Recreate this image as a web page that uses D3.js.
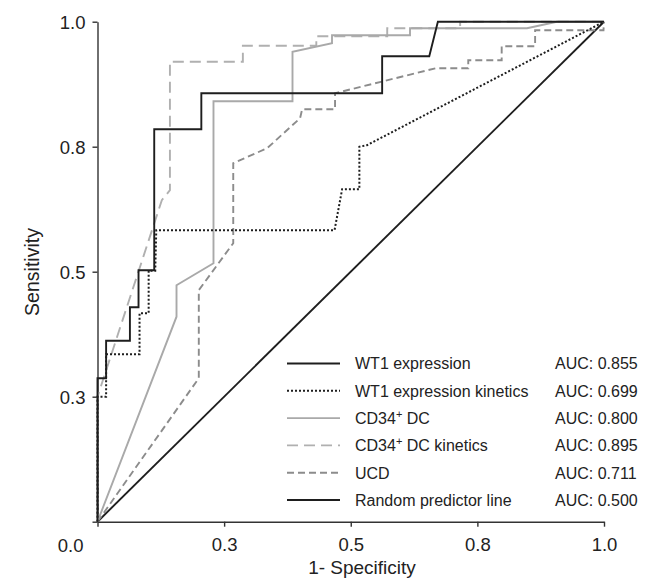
<!DOCTYPE html>
<html>
<head>
<meta charset="utf-8">
<script src="https://cdn.jsdelivr.net/npm/d3@7"></script>
<style>
  html, body { margin: 0; padding: 0; background: #fff; }
  svg { display: block; font-family: "Liberation Sans", Arial, Helvetica, sans-serif; }
</style>
</head>
<body>
<svg id="chart" width="649" height="585"></svg>
<script>
// ---- Data ----
const seriesNames = ["WT1 expression", "WT1 expression kinetics", "CD34+ DC", "CD34+ DC kinetics", "UCD", "Random predictor line"];
const aucValues = ["0.855", "0.699", "0.800", "0.895", "0.711", "0.500"];

// [1-specificity, sensitivity]
const wt1Expression = [[0,0],[0,0.287],[0.017,0.287],[0.017,0.362],[0.064,0.362],[0.064,0.429],[0.081,0.429],[0.081,0.503],[0.112,0.503],[0.112,0.785],[0.205,0.785],[0.205,0.857],[0.562,0.857],[0.562,0.931],[0.655,0.931],[0.672,1.0],[1,1]];
const wt1Kinetics = [[0,0],[0,0.25],[0.017,0.25],[0.017,0.335],[0.083,0.335],[0.083,0.417],[0.101,0.417],[0.101,0.502],[0.114,0.502],[0.116,0.583],[0.468,0.583],[0.483,0.665],[0.517,0.665],[0.517,0.75],[0.532,0.753],[1,1]];
const cd34DC = [[0,0],[0.156,0.41],[0.156,0.473],[0.229,0.517],[0.229,0.841],[0.385,0.841],[0.385,0.94],[0.463,0.957],[0.463,0.973],[0.617,0.973],[0.617,0.987],[0.848,0.987],[0.907,1.0],[1,1]];
const cd34Kinetics = [[0,0],[0,0.25],[0.127,0.643],[0.143,0.663],[0.143,0.92],[0.287,0.92],[0.287,0.952],[0.432,0.952],[0.432,0.971],[0.572,0.971],[0.572,0.987],[0.716,0.987],[0.716,1.0],[1,1]];
const ucd = [[0,0],[0.2,0.287],[0.2,0.463],[0.268,0.557],[0.268,0.717],[0.335,0.747],[0.4,0.807],[0.404,0.825],[0.469,0.825],[0.469,0.857],[0.668,0.907],[0.732,0.907],[0.732,0.923],[0.798,0.923],[0.798,0.951],[0.864,0.951],[0.864,0.983],[0.999,0.983],[1,1]];
const randomLine = [[0,0],[1,1]];

const tickValues = [0, 0.25, 0.5, 0.75, 1];
const xTickLabels = ["0.0", "0.3", "0.5", "0.8", "1.0"];
const yTickLabels = ["", "0.3", "0.5", "0.8", "1.0"];

// ---- Styles ----
const styles = [
  { data: wt1Expression, color: "#1e1e1e", width: 1.9, dash: null },
  { data: wt1Kinetics,   color: "#1e1e1e", width: 2.0, dash: "2,2" },
  { data: cd34DC,        color: "#a9a9a9", width: 1.9, dash: null },
  { data: cd34Kinetics,  color: "#b0b0b0", width: 1.9, dash: "11,6" },
  { data: ucd,           color: "#8c8c8c", width: 1.9, dash: "7,4" },
  { data: randomLine,    color: "#1e1e1e", width: 1.9, dash: null }
];

const svg = d3.select("#chart");
const x = d3.scaleLinear().domain([0, 1]).range([97.5, 604]);
const y = d3.scaleLinear().domain([0, 1]).range([521.7, 21.7]);
const axisColor = "#333";

// ---- Axes ----
const xAxis = d3.axisBottom(x).tickValues(tickValues).tickSize(5).tickSizeOuter(0)
  .tickFormat((d, i) => i === 0 ? "" : xTickLabels[i]);
const gx = svg.append("g").attr("transform", `translate(0,${y(0)})`).call(xAxis);
const yAxis = d3.axisLeft(y).tickValues(tickValues).tickSize(5).tickSizeOuter(0)
  .tickFormat((d, i) => yTickLabels[i]);
const gy = svg.append("g").attr("transform", `translate(${x(0)},0)`).call(yAxis);

[gx, gy].forEach(g => {
  g.select(".domain").attr("stroke", axisColor).attr("stroke-width", 1.4);
  g.selectAll(".tick line").attr("stroke", axisColor).attr("stroke-width", 1.4);
  g.selectAll(".tick text").attr("fill", "#222").style("font-size", "18.5px")
    .style("font-family", '"Liberation Sans", Arial, sans-serif');
});
gx.selectAll(".tick text").attr("dy", null).attr("y", 29.8);
gy.selectAll(".tick text").attr("x", -12).attr("dy", "0.36em");

// origin label "0.0"
svg.append("text").attr("x", x(0) - 14).attr("y", y(0) + 29.8)
  .attr("text-anchor", "end").attr("fill", "#222").style("font-size", "18.5px")
  .text(xTickLabels[0]);

// axis titles
svg.append("text").attr("x", 362).attr("y", 573.5)
  .attr("text-anchor", "middle").attr("fill", "#222").style("font-size", "19px")
  .text("1- Specificity");
svg.append("text").attr("transform", "translate(39,272) rotate(-90)")
  .attr("text-anchor", "middle").attr("fill", "#222").style("font-size", "19.5px")
  .text("Sensitivity");

// ---- Curves ----
const line = d3.line().x(d => x(d[0])).y(d => y(d[1]));
const drawOrder = [5, 4, 3, 2, 1, 0];
drawOrder.forEach(i => {
  const s = styles[i];
  svg.append("path").datum(s.data)
    .attr("d", line)
    .attr("fill", "none")
    .attr("stroke", s.color)
    .attr("stroke-width", s.width)
    .attr("stroke-linejoin", "miter")
    .attr("stroke-dasharray", s.dash);
});

// ---- Legend ----
const legendTop = 363.5, legendStep = 27.3;
const lg = svg.append("g");
seriesNames.forEach((name, i) => {
  const s = styles[i];
  const cy = legendTop + i * legendStep;
  lg.append("line").attr("x1", 287).attr("x2", 340).attr("y1", cy).attr("y2", cy)
    .attr("stroke", s.color).attr("stroke-width", s.width).attr("stroke-dasharray", s.dash);
  const t = lg.append("text").attr("x", 355).attr("y", cy + 5.8)
    .attr("fill", "#222").style("font-size", "16px");
  if (name.includes("+")) {
    const parts = name.split("+");
    t.append("tspan").text(parts[0]);
    t.append("tspan").attr("dy", -6).style("font-size", "11px").text("+");
    t.append("tspan").attr("dy", 6).text(parts[1]);
  } else {
    t.text(name);
  }
  lg.append("text").attr("x", 555).attr("y", cy + 5.8)
    .attr("fill", "#222").style("font-size", "16px").text("AUC: " + aucValues[i]);
});
</script>
</body>
</html>
